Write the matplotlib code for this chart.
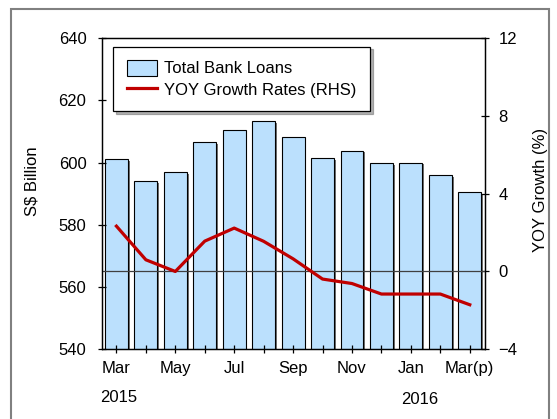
import numpy as np
import matplotlib
matplotlib.use('Agg')
import matplotlib.pyplot as plt
import matplotlib.patheffects as pe
from matplotlib.patches import Rectangle

plt.rcParams['font.family'] = ['Liberation Sans', 'DejaVu Sans']
plt.rcParams['font.size'] = 12

# data
months = ['Mar', 'Apr', 'May', 'Jun', 'Jul', 'Aug', 'Sep',
          'Oct', 'Nov', 'Dec', 'Jan', 'Feb', 'Mar(p)']
loans = [601.0, 594.1, 596.9, 606.6, 610.4, 613.4, 608.1,
         601.5, 603.8, 599.7, 600.0, 596.0, 590.4]
yoy = [2.33, 0.60, 0.0, 1.56, 2.23, 1.55, 0.65,
       -0.39, -0.62, -1.16, -1.16, -1.16, -1.71]
years = ['2015', '2016']

W, H = 557, 419
fig = plt.figure(figsize=(W / 100, H / 100), dpi=100)
ax = fig.add_axes([101.7 / W, 1 - 349.3 / H, 382.8 / W, 311.3 / H])
ax2 = ax.twinx()

x = np.arange(len(months))

# bars with small drop shadow
bars = ax.bar(x, loans, width=0.78, bottom=0, color='#BBE0FD',
              edgecolor='black', linewidth=0.8,
              path_effects=[pe.SimplePatchShadow(offset=(1.3, -1.3), shadow_rgbFace='0.3', alpha=0.8),
                            pe.Normal()],
              label='Total Bank Loans')
ax.set_ylim(540, 640)
ax.set_xlim(-0.5, len(months) - 0.5)
ax.set_yticks(np.arange(540, 641, 20))
ax.set_xticks(x)
ax.set_xticklabels([m if i % 2 == 0 else '' for i, m in enumerate(months)])

ax2.axhline(0, color='#404040', linewidth=0.9)
line, = ax2.plot(x, yoy, color='#C00000', linewidth=2.3, label='YOY Growth Rates (RHS)')
ax2.set_ylim(-4, 12)
ax2.set_yticks(np.arange(-4, 13, 4))

for a in (ax, ax2):
    for s in a.spines.values():
        s.set_linewidth(0.9)
        s.set_color('black')
ax.tick_params(axis='y', direction='inout', length=6, width=0.9, pad=8)
ax.tick_params(axis='x', direction='inout', length=6, width=0.9, pad=5.5)
ax2.tick_params(axis='y', direction='inout', length=6, width=0.9, pad=7)

# year labels under the month labels
ax.text(0.087, -0.155, years[0], transform=ax.get_xaxis_transform(),
        ha='center', va='center')
ax.text(10.29, -0.160, years[1], transform=ax.get_xaxis_transform(),
        ha='center', va='center')

fig.text(31.5 / W, 1 - 181 / H, 'S$ Billion', rotation=90, ha='center', va='center')
fig.text(540 / W, 1 - 190 / H, 'YOY Growth (%)', rotation=90, ha='center', va='center')

leg = ax2.legend([bars, line], ['Total Bank Loans', 'YOY Growth Rates (RHS)'],
                 loc='upper left', bbox_to_anchor=(0.030, 0.972), borderaxespad=0,
                 fancybox=False, shadow={'color': '0.4', 'alpha': 0.5},
                 framealpha=1, edgecolor='black', handlelength=1.8, handleheight=1.05,
                 handletextpad=0.45, borderpad=0.8, labelspacing=0.3)
leg.get_frame().set_linewidth(0.9)

# outer frame of the picture
fig.add_artist(Rectangle((11 / W, -0.1), (549 - 11) / W, 1 - 9 / H + 0.1,
                         transform=fig.transFigure, fill=False,
                         edgecolor='#808080', linewidth=1.5))

fig.savefig('out.png', dpi=100)
